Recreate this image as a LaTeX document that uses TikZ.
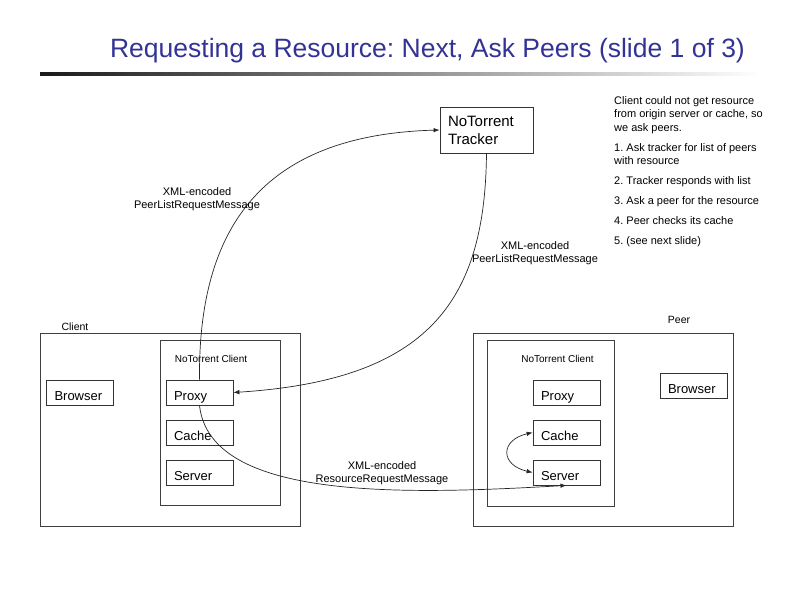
\documentclass[tikz,border=0pt]{standalone}
\usepackage{fontspec}
\setmainfont{Liberation Sans}
\usetikzlibrary{arrows.meta}
\definecolor{slideblue}{RGB}{51,51,150}
\frenchspacing

\begin{document}
\begin{tikzpicture}[x=1pt,y=-1pt,>={Latex[length=6pt,width=4.5pt]},box/.style={draw=black!80, line width=0.8pt, minimum width=67pt, minimum height=25pt, inner xsep=8pt, inner ysep=2pt, text width=51pt, text height=16pt, text depth=1pt, align=left, font=\fontsize{13}{15}\selectfont},frame/.style={draw=black!75, line width=0.8pt},msg/.style={align=center, font=\fontsize{11}{13}\selectfont},tag/.style={font=\fontsize{10.5}{12}\selectfont},link/.style={->, line width=0.7pt, black!85}]
\useasboundingbox (0,0) rectangle (800,600);
\node[anchor=base, text=slideblue, font=\fontsize{26.5}{30}\selectfont] (title) at (427.5,57) {Requesting a Resource: Next, Ask Peers (slide 1 of 3)};
\shade[left color=black!90, right color=white] (40,72.5) rectangle (760,75.5);
\node[draw=black!80, line width=0.8pt, minimum width=93pt, minimum height=46pt, inner xsep=8pt, text width=77pt, align=left, font=\fontsize{15}{18}\selectfont] (tracker) at (486.5,130) {NoTorrent\\Tracker};
\node[anchor=north west, align=left, inner sep=0pt, font=\fontsize{11}{13.5}\selectfont] (notes) at (614,96) {Client could not get resource\\from origin server or cache, so\\we ask peers.\\[6.5pt]1. Ask tracker for list of peers\\with resource\\[6.5pt]2. Tracker responds with list\\[6.5pt]3. Ask a peer for the resource\\[6.5pt]4. Peer checks its cache\\[6.5pt]5. (see next slide)};
\node[frame, minimum width=260pt, minimum height=193pt] (client) at (170,429.5) {};\node[frame, minimum width=120pt, minimum height=165pt] (cnt) at (220,422.5) {};
\node[frame, minimum width=260pt, minimum height=193pt] (peer) at (603,429.5) {};\node[frame, minimum width=127pt, minimum height=166pt] (pnt) at (550.5,423) {};
\node[tag] (clientlbl) at (75,327) {Client};\node[tag] (peerlbl) at (679,320) {Peer};
\node[font=\fontsize{10}{12}\selectfont] (cntlbl) at (211,359) {NoTorrent Client};\node[font=\fontsize{10}{12}\selectfont] (pntlbl) at (557.5,359) {NoTorrent Client};
\foreach \n/\t/\y in {proxy/Proxy/392.5,cache/Cache/432.5,server/Server/472.5}{\node[box] (c\n) at (199.5,\y) {\t};\node[box] (p\n) at (566.5,\y) {\t};}
\node[box] (cbrowser) at (80,393) {Browser};\node[box] (pbrowser) at (693.5,385.5) {Browser};
\draw[link] (cproxy.north) .. controls (198,230) and (260,135) .. (tracker.west);
\draw[link] (tracker.south) .. controls (485,300) and (430,380) .. (cproxy.east);
\draw[link] (cproxy.south) .. controls (210,500) and (400,495) .. (pserver.south);
\draw[link, <->] (pcache.west) .. controls (500,440) and (500,465) .. (pserver.west);
\node[msg] (msg1) at (197,199.5) {XML-encoded\\PeerListRequestMessage};\node[msg] (msg2) at (535,253) {XML-encoded\\PeerListRequestMessage};
\node[msg] (msg3) at (382,473.5) {XML-encoded\\ResourceRequestMessage};
\end{tikzpicture}
\end{document}
